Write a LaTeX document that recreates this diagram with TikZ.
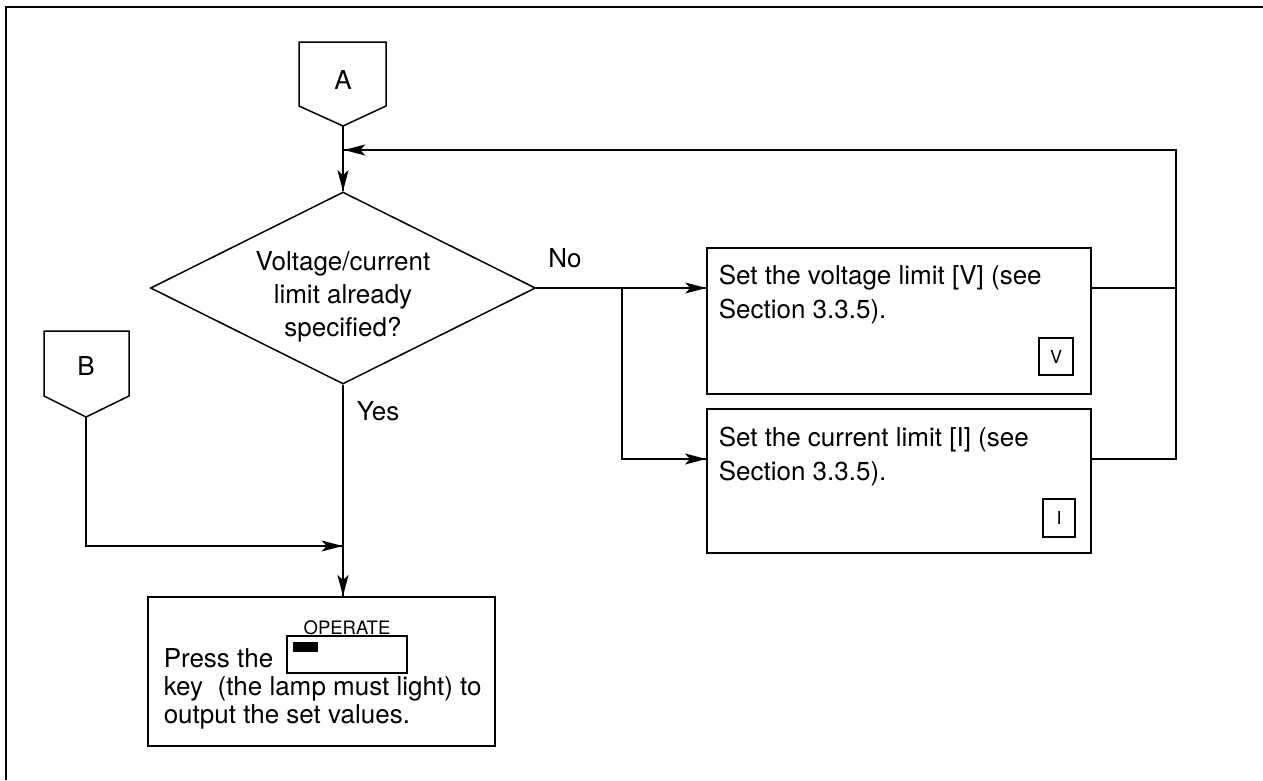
\documentclass[tikz,border=0pt]{standalone}
\usepackage{fontspec}
\setmainfont{TeX Gyre Heros}
\usetikzlibrary{positioning}
\usetikzlibrary{arrows.meta}
\usetikzlibrary{decorations.markings}
\usetikzlibrary{shapes.geometric}
\tikzset{->/.style = {decoration={markings,
                                  mark=at position 0.999
                                  with {\arrow{Stealth[length=21pt,width=11pt,inset=5pt]}}},
                      postaction={decorate}}}
\tikzset{box/.style = {draw, rectangle, inner sep=0}}
\tikzset{txt/.style = {inner sep=0, align=left, anchor=north west}}
\tikzset{keybox/.style = {draw, rectangle, inner sep=0, font=\fontsize{18}{20}\selectfont}}
\tikzset{
  every picture/.style={
    every path/.style={line width=1.5pt},
    every node/.style={font=\fontsize{26}{34}\selectfont}
  }
}
\begin{document}
\begin{tikzpicture}[x=1pt, y=-1pt]
      \useasboundingbox (0,0) rectangle (1263,780);
      \draw[line width=2.2pt] (6,780) -- (6,7) -- (1263,7);
      \draw (299,42) -- (386,42) -- (386,106) -- (343,126) -- (299,106) -- cycle;
      \node (a) at (343,80) {A};
      \coordinate (atip) at (343,126);
      \draw (44,331) -- (129,331) -- (129,396) -- (86,417) -- (44,396) -- cycle;
      \node (b) at (86,366) {B};
      \coordinate (btip) at (86,417);
      \node[draw, diamond, aspect=2, inner sep=0, minimum width=385pt, minimum height=192pt]
        (limit) at (343,288) {};
      \node[align=center, inner sep=0, font=\fontsize{26}{33}\selectfont]
        (limittxt) at (343,297) {Voltage/current\\limit already\\specified?};
      \node[anchor=base] (no) at (565,267) {No};
      \node[anchor=base] (yes) at (378,420) {Yes};
      \node[box, minimum width=384pt, minimum height=146pt] (setv) at (899,321) {};
      \node[txt] (setvtxt) at (718,264) {Set the voltage limit [V] (see\\Section 3.3.5).};
      \node[keybox, minimum width=34pt, minimum height=37pt] (vkey) at (1056,356.5) {V};
      \node[box, minimum width=384pt, minimum height=144pt] (seti) at (899,481) {};
      \node[txt] (setitxt) at (718,426) {Set the current limit [I] (see\\Section 3.3.5).};
      \node[keybox, minimum width=32pt, minimum height=38pt] (ikey) at (1059,518) {I};
      \node[box, minimum width=347pt, minimum height=149pt] (operate) at (321.5,671.5) {};
      \node[txt, font=\fontsize{26}{28}\selectfont]
        (optxt) at (163,648) {Press the\\key\ \ (the lamp must light) to\\output the set values.};
      \node[keybox, minimum width=120pt, minimum height=37pt, label distance=3pt,
        label={[font=\fontsize{18.5}{20}\selectfont, inner sep=0]above:OPERATE}]
        (opkey) at (347,654.5) {};
      \node[fill, inner sep=0, minimum width=25pt, minimum height=10pt] (lamp) at (305.5,647) {};
      \coordinate (j) at (622,288);
      \coordinate (ji) at (622,459);
      \coordinate (rt) at (1176,150);
      \coordinate (rb) at (1176,459);
      \coordinate (bc) at (86,546);
      \draw[->] (atip) -- (limit.north);
      \draw (limit.east) -- (j);
      \draw[->] (j) -- (j -| setv.west);
      \draw[->] (j) -- (ji) -- (ji -| seti.west);
      \draw (setv.east |- j) -- (j -| rb);
      \draw[->] (seti.east |- ji) -- (rb) -- (rt) -- (rt -| atip);
      \draw[->] (limit.south) -- (limit.south |- operate.north);
      \draw[->] (btip) -- (bc) -- (bc -| limit.south);
    \end{tikzpicture}
\end{document}
